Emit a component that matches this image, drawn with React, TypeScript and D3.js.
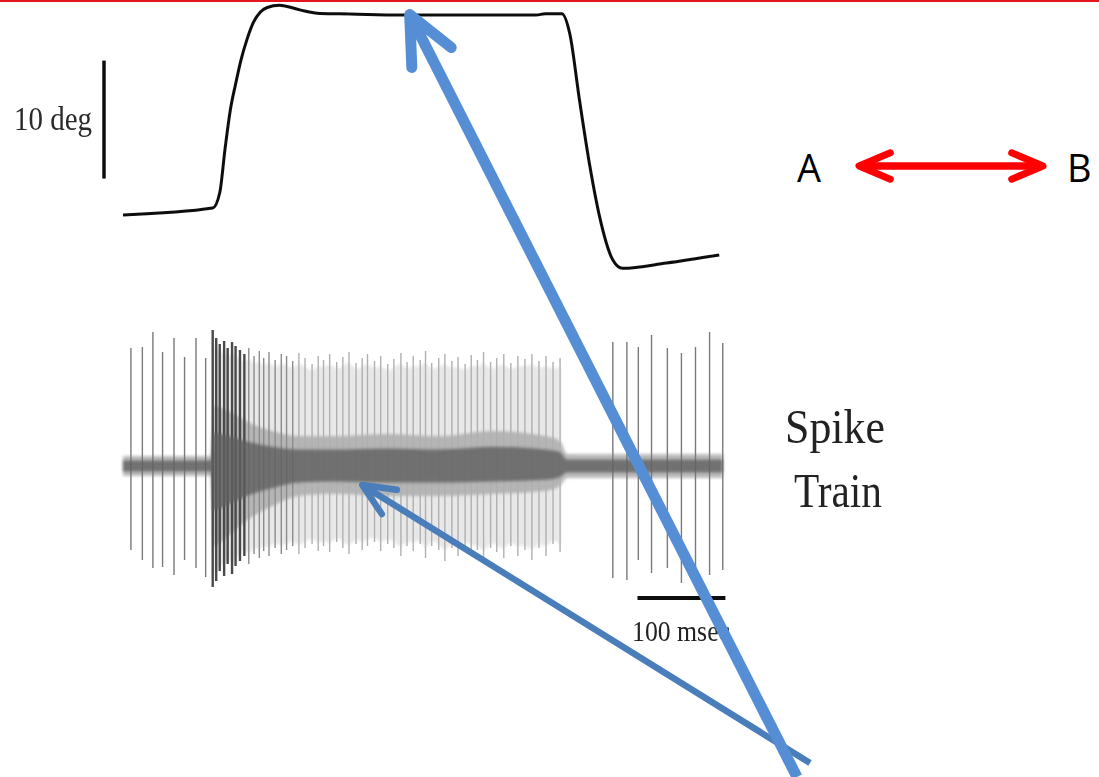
import React from "react";
import * as d3 from "d3";

// eye position trace: time (ms) and position (deg)
const eyeTime = [0, 102, 110, 116, 122, 128, 134, 141, 148, 156, 164, 178, 201, 224, 258, 315, 470, 480, 499, 508, 519, 531, 542, 557, 568, 618, 678];
const eyeDeg = [-0.08, 0.5, 1.8, 5.5, 8.8, 11.0, 13.0, 14.8, 16.2, 17.1, 17.5, 17.7, 17.3, 17.0, 16.95, 16.86, 16.86, 16.98, 16.98, 15.3, 9.7, 4.0, -0.25, -3.9, -4.6, -4.15, -3.47];

// spike times (ms) with peak / trough amplitude (arbitrary units)
const spikeTime = [
  9, 22, 34, 45, 58, 70, 83, 94,
  102, 106, 110, 115, 119, 124, 128, 133, 138, 143, 149, 155, 160, 166, 173, 180, 186, 193, 200, 207, 215, 222, 228, 235,
  243, 250, 257, 265, 272, 278, 286, 293, 301, 308, 316, 323, 330, 338, 344, 351, 359, 366, 374, 381, 389, 396, 403, 410,
  418, 425, 433, 441, 449, 457, 465, 473, 481, 489, 497,
  557, 573, 586, 601, 619, 635, 651, 667, 682,
];
const spikeUp = [
  1.18, 1.19, 1.34, 1.14, 1.28, 1.09, 1.28, 1.08,
  1.36, 1.28, 1.22, 1.25, 1.18, 1.24, 1.2, 1.16, 1.12, 1.18, 1.1, 1.15, 1.08, 1.14, 1.06, 1.12, 1.1, 1.05, 1.13, 1.08, 1.02, 1.1, 1.06, 1.12,
  1.04, 1.09, 1.14, 1.03, 1.08, 1.12, 1.05, 1.1, 1.02, 1.07, 1.13, 1.04, 1.1, 1.06, 1.15, 1.03, 1.08, 1.12, 1.05, 1.09, 1.02, 1.11, 1.06, 1.14,
  1.04, 1.08, 1.12, 1.03, 1.1, 1.07, 1.12, 1.05, 1.1, 1.04, 1.08,
  1.24, 1.24, 1.19, 1.31, 1.18, 1.13, 1.19, 1.34, 1.23,
];
const spikeDown = [
  0.84, 0.94, 1.02, 1.01, 1.09, 0.94, 1.02, 1.11,
  1.21, 1.15, 1.05, 1.1, 0.98, 1.08, 1.0, 0.95, 0.9, 0.98, 0.88, 0.92, 0.85, 0.9, 0.82, 0.88, 0.84, 0.8, 0.88, 0.82, 0.78, 0.85, 0.8, 0.86,
  0.76, 0.82, 0.88, 0.78, 0.84, 0.8, 0.76, 0.85, 0.78, 0.82, 0.9, 0.8, 0.85, 0.78, 0.92, 0.8, 0.84, 0.95, 0.82, 0.9, 0.8, 0.88, 0.84, 0.96,
  0.82, 0.86, 0.92, 0.8, 0.9, 0.84, 0.94, 0.82, 0.9, 0.78, 0.86,
  1.12, 1.14, 0.94, 1.07, 1.02, 1.17, 1.04, 1.09, 1.04,
];

// background noise envelope of the recording
const noiseTime = [0, 100, 103, 120, 140, 170, 200, 240, 300, 360, 420, 480, 497, 505, 540, 600, 682];
const noiseUp = [0.1, 0.1, 0.6, 0.55, 0.45, 0.35, 0.3, 0.3, 0.32, 0.3, 0.35, 0.3, 0.25, 0.12, 0.12, 0.12, 0.12];
const noiseDown = [0.1, 0.1, 0.8, 0.7, 0.55, 0.4, 0.3, 0.28, 0.3, 0.3, 0.28, 0.25, 0.2, 0.12, 0.12, 0.12, 0.12];

// scale bars
const degBar = [3, 13];
const msBar = [585, 685];
const burstWindow = [102, 497];

const W = 1099;
const H = 777;

const x = d3.scaleLinear().domain([0, 680]).range([123, 721]);
const eyeY = d3.scaleLinear().domain([0, 10]).range([214, 96]);
const spY = d3.scaleLinear().domain([-1, 1]).range([566, 366]);

function spikeColor(t: number) {
  if (t < 100) return "#7a7a7a";
  if (t < 140) return "#4a4a4a";
  if (t < 200) return "#8c8c8c";
  if (t <= 500) return "#b0b0b0";
  return "#7a7a7a";
}

function Arrow({ tip, tail, color, width, arm, spread }: any) {
  const ang = Math.atan2(tail[1] - tip[1], tail[0] - tip[0]);
  const a1 = [tip[0] + arm * Math.cos(ang - spread), tip[1] + arm * Math.sin(ang - spread)];
  const a2 = [tip[0] + arm * Math.cos(ang + spread), tip[1] + arm * Math.sin(ang + spread)];
  return (
    <g stroke={color} strokeWidth={width} fill="none">
      <line x1={tail[0]} y1={tail[1]} x2={tip[0]} y2={tip[1]} />
      <path
        d={`M${a1[0]},${a1[1]}L${tip[0]},${tip[1]}L${a2[0]},${a2[1]}`}
        strokeLinecap="round"
        strokeLinejoin="round"
      />
    </g>
  );
}

export default function App() {
  const eyeLine = d3
    .line<number>()
    .x((_, i) => x(eyeTime[i]))
    .y((d) => eyeY(d))
    .curve(d3.curveMonotoneX);

  const noiseArea = (k: number) =>
    d3
      .area<number>()
      .x((d) => x(d))
      .y0((_, i) => spY(-noiseDown[i] * k))
      .y1((_, i) => spY(noiseUp[i] * k))
      .curve(d3.curveMonotoneX);

  // faint haze covering the dense part of the burst
  const burstIdx = spikeTime
    .map((t, i) => i)
    .filter((i) => spikeTime[i] >= burstWindow[0] && spikeTime[i] <= burstWindow[1]);
  const burstHaze = d3
    .area<number>()
    .x((i) => x(spikeTime[i]))
    .y0((i) => spY(-spikeDown[i] * 0.92))
    .y1((i) => spY(spikeUp[i] * 0.92))
    .curve(d3.curveBasis);

  const serif = "'Liberation Serif', 'Times New Roman', serif";
  const sans = "'Open Sans', 'Noto Sans', sans-serif";

  return (
    <svg
      width={W}
      height={H}
      style={{ position: "absolute", left: 0, top: 0, background: "#fff" }}
    >
      <defs>
        <filter id="soft" x="-5%" y="-5%" width="110%" height="110%">
          <feGaussianBlur stdDeviation="0.55" />
        </filter>
        <filter id="haze" x="-5%" y="-20%" width="110%" height="140%">
          <feGaussianBlur stdDeviation="1.6" />
        </filter>
      </defs>
      <rect x={0} y={0} width={W} height={2} fill="#e3161b" />

      <g filter="url(#haze)">
        <path d={burstHaze(burstIdx) || ""} fill="#e2e2e2" opacity={0.8} />
        <path d={noiseArea(1)(noiseTime) || ""} fill="#a4a4a4" opacity={0.75} />
      </g>

      <g filter="url(#soft)">
        {/* eye position */}
        <path d={eyeLine(eyeDeg) || ""} fill="none" stroke="#111" strokeWidth={3} />
        <line x1={104} x2={104} y1={eyeY(degBar[0])} y2={eyeY(degBar[1])} stroke="#111" strokeWidth={3.5} />
        <text
          x={14}
          y={130}
          fontFamily={serif}
          fontSize={33}
          textLength={78}
          lengthAdjust="spacingAndGlyphs"
          fill="#2a2a2a"
        >
          10 deg
        </text>

        {/* spike train */}
        {spikeTime.map((t, i) => (
          <line
            key={i}
            x1={x(t)}
            x2={x(t)}
            y1={spY(spikeUp[i])}
            y2={spY(-spikeDown[i])}
            stroke={spikeColor(t)}
            strokeWidth={t >= 100 && t < 140 ? 2.4 : 1.4}
          />
        ))}

        <text x={835} y={443} textAnchor="middle" fontFamily={serif} fontSize={48} textLength={100} lengthAdjust="spacingAndGlyphs" fill="#222">
          Spike
        </text>
        <text x={838} y={507} textAnchor="middle" fontFamily={serif} fontSize={48} textLength={88} lengthAdjust="spacingAndGlyphs" fill="#222">
          Train
        </text>

        <line x1={x(msBar[0])} x2={x(msBar[1])} y1={598} y2={598} stroke="#111" strokeWidth={4} />
        <text x={632} y={641} fontFamily={serif} fontSize={29} textLength={98} lengthAdjust="spacingAndGlyphs" fill="#222">
          100 msec
        </text>
      </g>

      <g filter="url(#haze)">
        <path d={noiseArea(0.55)(noiseTime) || ""} fill="#5f5f5f" opacity={0.8} />
      </g>

      {/* A <-> B */}
      <text x={797} y={182} fontFamily={sans} fontSize={38} fill="#000">A</text>
      <text x={1067} y={182} fontFamily={sans} fontSize={38} fill="#000">B</text>
      <Arrow tip={[859, 166]} tail={[1043, 166]} color="#ff0000" width={7} arm={34} spread={0.4} />
      <Arrow tip={[1043, 166]} tail={[859, 166]} color="#ff0000" width={7} arm={34} spread={0.4} />

      {/* pointers */}
      <Arrow tip={[x(272), spY(-0.19)]} tail={[810, 763]} color="#4a7ebb" width={6.5} arm={35} spread={0.42} />
      <Arrow tip={[x(326), eyeY(16.9)]} tail={[797, 777]} color="#558ed5" width={11} arm={53} spread={0.43} />
    </svg>
  );
}
